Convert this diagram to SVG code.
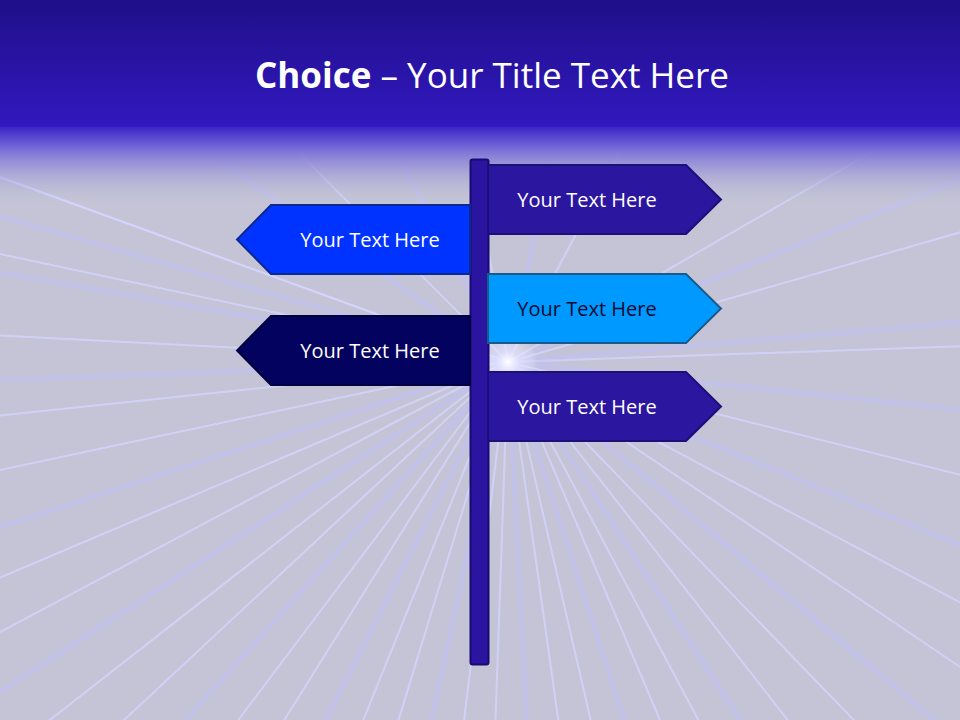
<svg xmlns="http://www.w3.org/2000/svg" width="960" height="720" viewBox="0 0 960 720">
<defs>
<linearGradient id="hdr" x1="0" y1="0" x2="0" y2="1">
<stop offset="0" stop-color="#1f0f88"/>
<stop offset="1" stop-color="#3118c0"/>
</linearGradient>
<linearGradient id="fade" x1="0" y1="0" x2="0" y2="1">
<stop offset="0" stop-color="#3a22c8"/>
<stop offset="0.3" stop-color="#7a70d8"/>
<stop offset="1" stop-color="#c4c4d6" stop-opacity="0"/>
</linearGradient>
<radialGradient id="glow" cx="508" cy="362" r="30" gradientUnits="userSpaceOnUse">
<stop offset="0" stop-color="#ffffff" stop-opacity="1"/>
<stop offset="0.4" stop-color="#e8e8ff" stop-opacity="0.6"/>
<stop offset="1" stop-color="#ffffff" stop-opacity="0"/>
</radialGradient>
<line id="ray" x1="0" y1="0" x2="1000" y2="0"/>
<style>
.rays use{stroke:#d4d4ff;stroke-width:2;stroke-opacity:0.8}
.rays .w{stroke:#c0c0ff;stroke-width:5;stroke-opacity:0.45}
.sign text{font-family:"Open Sans","Liberation Sans",sans-serif;font-size:20px;fill:#ffffff;text-anchor:middle}
.title{font-family:"Open Sans","Liberation Sans",sans-serif;font-size:35px;fill:#ffffff}
</style>
</defs>
<rect x="0" y="0" width="960" height="720" fill="#c4c4d6"/>
<g class="rays" transform="translate(508,362)">
<use href="#ray" transform="rotate(200)"/>
<use href="#ray" transform="rotate(196)" class="w"/>
<use href="#ray" transform="rotate(192)"/>
<use href="#ray" transform="rotate(183)"/>
<use href="#ray" transform="rotate(178)" class="w"/>
<use href="#ray" transform="rotate(174)"/>
<use href="#ray" transform="rotate(168)"/>
<use href="#ray" transform="rotate(162)" class="w"/>
<use href="#ray" transform="rotate(157)"/>
<use href="#ray" transform="rotate(152)"/>
<use href="#ray" transform="rotate(147)" class="w"/>
<use href="#ray" transform="rotate(142)"/>
<use href="#ray" transform="rotate(137)"/>
<use href="#ray" transform="rotate(132)" class="w"/>
<use href="#ray" transform="rotate(127)"/>
<use href="#ray" transform="rotate(122)"/>
<use href="#ray" transform="rotate(117)" class="w"/>
<use href="#ray" transform="rotate(112)"/>
<use href="#ray" transform="rotate(107)"/>
<use href="#ray" transform="rotate(102)" class="w"/>
<use href="#ray" transform="rotate(97)"/>
<use href="#ray" transform="rotate(92)"/>
<use href="#ray" transform="rotate(87)" class="w"/>
<use href="#ray" transform="rotate(82)"/>
<use href="#ray" transform="rotate(77)"/>
<use href="#ray" transform="rotate(72)" class="w"/>
<use href="#ray" transform="rotate(67)"/>
<use href="#ray" transform="rotate(62)"/>
<use href="#ray" transform="rotate(57)" class="w"/>
<use href="#ray" transform="rotate(52)"/>
<use href="#ray" transform="rotate(46)"/>
<use href="#ray" transform="rotate(40)" class="w"/>
<use href="#ray" transform="rotate(34)"/>
<use href="#ray" transform="rotate(28)"/>
<use href="#ray" transform="rotate(22)" class="w"/>
<use href="#ray" transform="rotate(14)"/>
<use href="#ray" transform="rotate(6)" class="w"/>
<use href="#ray" transform="rotate(-2)"/>
<use href="#ray" transform="rotate(-5)" class="w"/>
<use href="#ray" transform="rotate(-16)"/>
<use href="#ray" transform="rotate(-22)" class="w"/>
<use href="#ray" transform="rotate(-30)"/>
<use href="#ray" transform="rotate(-62)"/>
<use href="#ray" transform="rotate(-78)" class="w"/>
<use href="#ray" transform="rotate(-100)"/>
<use href="#ray" transform="rotate(-118)" class="w"/>
<use href="#ray" transform="rotate(-135)"/>
<use href="#ray" transform="rotate(-145)" class="w"/>
<use href="#ray" transform="rotate(-160)"/>
<use href="#ray" transform="rotate(-170)" class="w"/>
</g>
<circle cx="508" cy="362" r="30" fill="url(#glow)"/>
<rect x="0" y="126" width="960" height="80" fill="url(#fade)"/>
<rect x="0" y="0" width="960" height="127" fill="url(#hdr)"/>
<text class="title" x="492" y="88" text-anchor="middle"><tspan font-weight="bold">Choice</tspan> – Your Title Text Here</text>
<g id="post">
<rect x="470.5" y="159.5" width="18" height="505" rx="2" fill="#2a14a0" stroke="#1a0a70" stroke-width="2"/>
</g>
<g id="sign-right-1" class="sign">
<polygon points="488,165 686,165 721,199.5 686,234 488,234" fill="#2b16a0" stroke="#1e0e78" stroke-width="2"/>
<text x="587" y="206.5">Your Text Here</text>
</g>
<g id="sign-left-1" class="sign">
<polygon points="470,205 271,205 237,239.5 271,274 470,274" fill="#0033ff" stroke="#0a2a90" stroke-width="2"/>
<text x="370" y="246.5">Your Text Here</text>
</g>
<g id="sign-right-2" class="sign">
<polygon points="488,274 686,274 721,308.5 686,343 488,343" fill="#0099ff" stroke="#1a5a8a" stroke-width="2"/>
<text x="587" y="315.5" style="fill:#0a0a30">Your Text Here</text>
</g>
<g id="sign-left-2" class="sign">
<polygon points="470,316 271,316 237,350.5 271,385 470,385" fill="#03035f" stroke="#020240" stroke-width="2"/>
<text x="370" y="357.5">Your Text Here</text>
</g>
<g id="sign-right-3" class="sign">
<polygon points="488,372 686,372 721,406.5 686,441 488,441" fill="#2b16a0" stroke="#1e0e78" stroke-width="2"/>
<text x="587" y="413.5">Your Text Here</text>
</g>
</svg>
